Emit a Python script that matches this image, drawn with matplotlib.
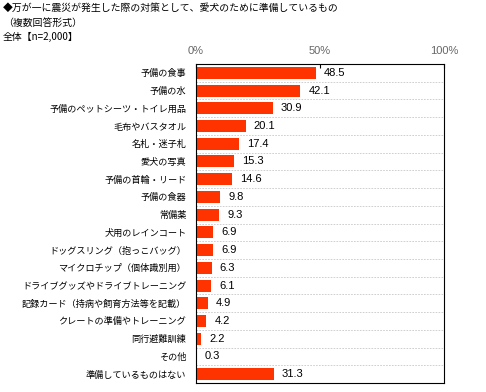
import matplotlib
matplotlib.use("Agg")
import matplotlib.pyplot as plt
import numpy as np

plt.rcParams['font.family'] = ['Noto Sans CJK JP', 'DejaVu Sans']

categories = [
    "予備の食事", "予備の水", "予備のペットシーツ・トイレ用品", "毛布やバスタオル",
    "名札・迷子札", "愛犬の写真", "予備の首輪・リード", "予備の食器", "常備薬",
    "犬用のレインコート", "ドッグスリング（抱っこバッグ）", "マイクロチップ（個体識別用）",
    "ドライブグッズやドライブトレーニング", "記録カード（持病や飼育方法等を記載）",
    "クレートの準備やトレーニング", "同行避難訓練", "その他", "準備しているものはない",
]
values = [48.5, 42.1, 30.9, 20.1, 17.4, 15.3, 14.6, 9.8, 9.3,
          6.9, 6.9, 6.3, 6.1, 4.9, 4.2, 2.2, 0.3, 31.3]
tick_values = [0, 50, 100]
tick_labels = ["0%", "50%", "100%"]
title_lines = ["◆万が一に震災が発生した際の対策として、愛犬のために準備しているもの",
               "（複数回答形式）", "全体【n=2,000】"]

W, H = 486, 392
fig = plt.figure(figsize=(W/100, H/100), dpi=100)
ax = fig.add_axes([196/W, 1-383/H, (444-196)/W, (383-64)/H])

n = len(categories)
y = np.arange(n)
ax.barh(y, values, height=0.68, color="#FF3300", edgecolor="none")
ax.set_xlim(0, 100)
ax.set_ylim(n-0.5, -0.5)

for i in range(1, n):
    ax.axhline(i-0.5, color="#C8C8C8", lw=0.6, ls=(0, (2, 1.5)))

for yi, v in zip(y, values):
    ax.text(v + 3.2, yi, f"{v:.1f}", va="center", ha="left", fontsize=8,
            family=['Liberation Sans', 'DejaVu Sans'], color="#000000")

ax.set_yticks(y)
ax.set_yticklabels(categories, fontsize=6.6, color="#000000")
ax.tick_params(axis='y', length=0, pad=7)
ax.xaxis.tick_top()
ax.set_xticks(tick_values)
ax.set_xticklabels(tick_labels, fontsize=8, color="#666666",
                   family=['Liberation Sans', 'DejaVu Sans'])
ax.tick_params(axis='x', direction='in', length=3, width=0.8, color="#000000", pad=6)
for s in ax.spines.values():
    s.set_color("#000000")
    s.set_linewidth(0.8)

ty = [8, 23, 37]
for t, yy in zip(title_lines, ty):
    fig.text(3/W, 1-yy/H, t, fontsize=7.1, va="center", ha="left", color="#000000")

fig.savefig("out.png", dpi=100)
